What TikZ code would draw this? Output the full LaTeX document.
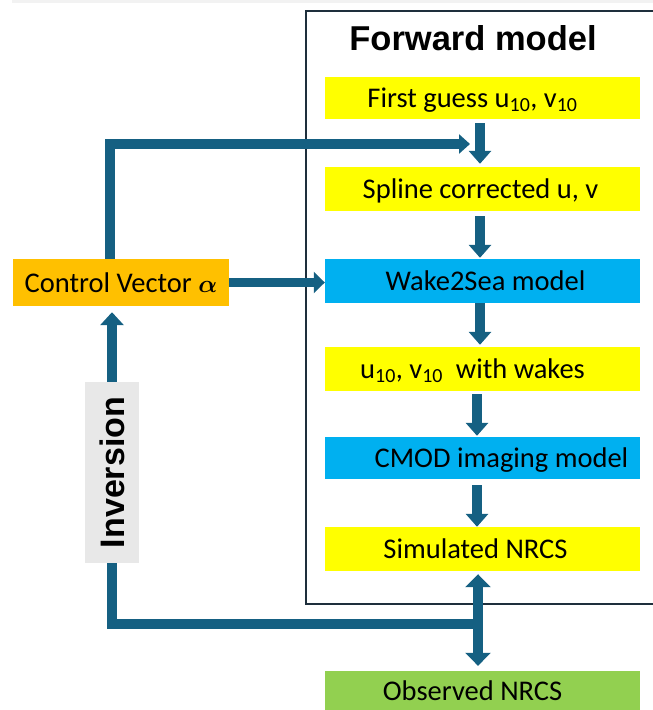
\documentclass[tikz,border=0pt]{standalone}
\usepackage{fontspec}
\setmainfont{Carlito}
\newfontfamily\boldsans{Liberation Sans}
\usepackage{amsmath}
\usepackage{graphicx}
\usetikzlibrary{arrows.meta,calc}
\definecolor{arrc}{HTML}{156082}
\definecolor{ylw}{HTML}{FFFF00}
\definecolor{blu}{HTML}{00B0F0}
\definecolor{org}{HTML}{FFC000}
\definecolor{grn}{HTML}{92D050}
\definecolor{gry}{HTML}{E8E8E8}
\definecolor{frm}{HTML}{1E2F3C}
\definecolor{strip}{HTML}{F2F2F2}
\begin{document}
\begin{tikzpicture}[x=1pt,y=-1pt,
  box/.style={minimum width=315pt, minimum height=44pt, inner sep=0pt,
    text height=19pt, text depth=0pt, font=\fontsize{28.5}{30}\selectfont, text=black},
  arr/.style={draw=arrc, line width=9.5pt, -{Triangle[width=22pt,length=13pt]}},
  dbl/.style={draw=arrc, line width=9.5pt, {Triangle[width=25pt,length=13pt]}-{Triangle[width=25pt,length=13pt]}},
  link/.style={draw=arrc, line width=10pt}]
\useasboundingbox (0,0) rectangle (653,710);
\fill[strip] (12,0) rectangle (653,3);
% frame
\draw[frm, line width=1.3pt] (653,11) -- (306,11) -- (306,604) -- (653,604);
\node[font=\boldsans\bfseries\fontsize{34.5}{36}\selectfont] (title) at (473,38) {Forward model};
% boxes
\node[box, fill=ylw, minimum height=42pt] (b1) at (482.5,98) {\hspace*{-20pt}First guess u\textsubscript{10}, v\textsubscript{10}};
\node[box, fill=ylw] (b2) at (482.5,189) {\hspace*{-4pt}Spline corrected u, v};
\node[box, fill=blu] (wake) at (482.5,281) {\hspace*{6pt}Wake2Sea model};
\node[box, fill=ylw] (b4) at (482.5,369) {\hspace*{-20pt}u\textsubscript{10}, v\textsubscript{10}\ \ with wakes};
\node[box, fill=blu, minimum height=42pt] (cmod) at (482.5,458) {\hspace*{38pt}CMOD imaging model};
\node[box, fill=ylw] (sim) at (482.5,549) {\hspace*{-14pt}Simulated NRCS};
\node[box, fill=grn, minimum height=39pt] (obs) at (482.5,690.5) {\hspace*{-20pt}Observed NRCS};
\node[box, fill=org, minimum width=216pt, minimum height=47pt] (ctrl) at (121,282.5) {Control Vector $\boldsymbol{\alpha}$};
\node[fill=gry, minimum width=54pt, minimum height=181pt, inner sep=0pt,
  font=\boldsans\bfseries\fontsize{34}{36}\selectfont] (inv) at (112,472.5) {\rotatebox{90}{Inversion}};
% forward arrows
\draw[arr, shorten <=4pt, shorten >=3pt] ([xshift=-2.5pt]b1.south) -- ([xshift=-2.5pt]b2.north);
\draw[arr, shorten <=5pt, shorten >=1pt] ([xshift=-2.5pt]b2.south) -- ([xshift=-2.5pt]wake.north);
\draw[arr, shorten <=0pt, shorten >=2pt] ([xshift=-2.5pt]wake.south) -- ([xshift=-2.5pt]b4.north);
\draw[arr, shorten <=3pt, shorten >=1pt] ([xshift=-5.5pt]b4.south) -- ([xshift=-5.5pt]cmod.north);
\draw[arr, shorten <=6pt, shorten >=0pt] ([xshift=-5.5pt]cmod.south) -- ([xshift=-5.5pt]sim.north);
% feedback to first arrow
\coordinate (fbtip) at (470,144);
\draw[arr, -{Triangle[width=19pt,length=11pt]}] ([xshift=-11pt]ctrl.north) |- (fbtip);
% control -> wake
\draw[arr, -{Triangle[width=21pt,length=11pt]}] (ctrl.east) -- (ctrl.east -| wake.west);
% inversion
\draw[arr, -{Triangle[width=23pt,length=13pt]}, shorten >=6pt] (inv.north) -- (inv.north |- ctrl.south);
\coordinate (junc) at (478,624);
\draw[link] (inv.south) |- (junc);
\draw[dbl, shorten <=3pt, shorten >=5pt] ([xshift=-4.5pt]sim.south) -- ([xshift=-4.5pt]obs.north);
\end{tikzpicture}
\end{document}
